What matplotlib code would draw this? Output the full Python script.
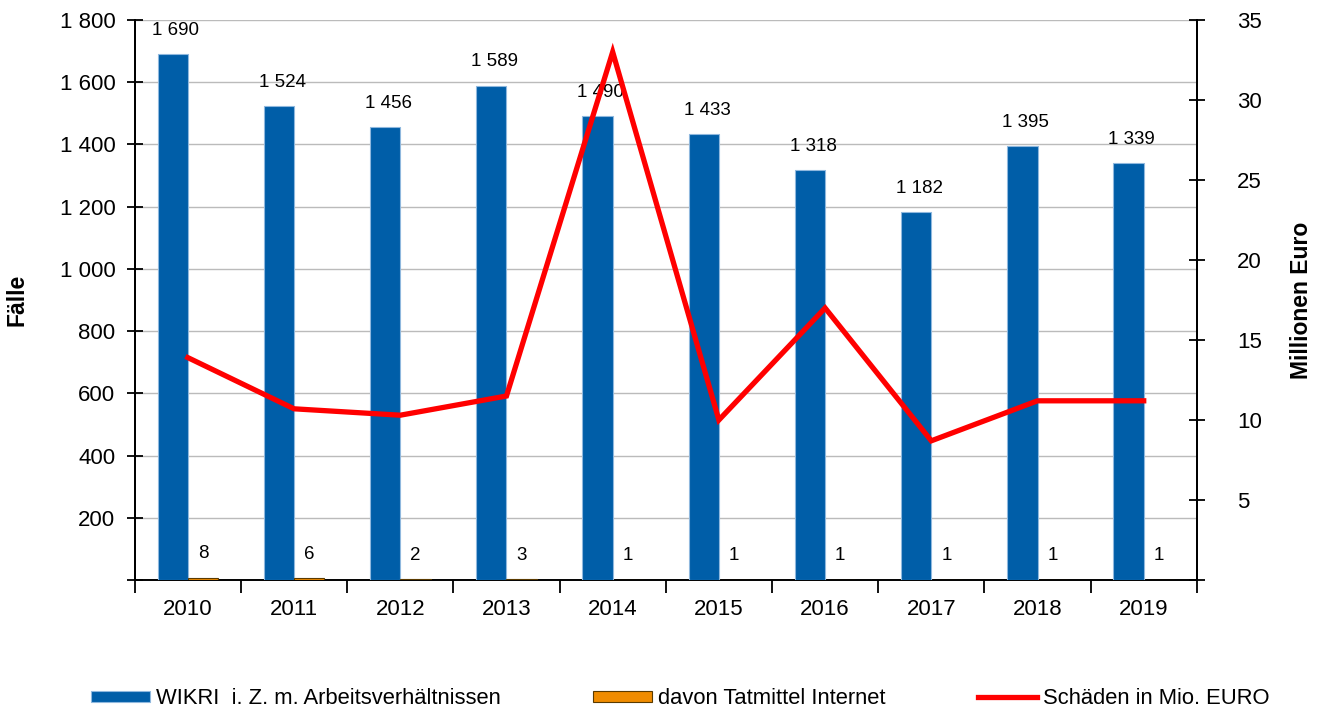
import numpy as np
import matplotlib
matplotlib.use("Agg")
import matplotlib.pyplot as plt
from matplotlib.ticker import FixedLocator, FuncFormatter

plt.rcParams['font.family'] = ['Liberation Sans', 'DejaVu Sans']

# ===== DATA =====
jahre = ["2010", "2011", "2012", "2013", "2014", "2015", "2016", "2017", "2018", "2019"]
faelle = [1690, 1524, 1456, 1589, 1490, 1433, 1318, 1182, 1395, 1339]
internet = [8, 6, 2, 3, 1, 1, 1, 1, 1, 1]
schaeden = [13.9, 10.7, 10.3, 11.5, 33.0, 10.0, 17.0, 8.7, 11.2, 11.2]

BLAU = "#005EA8"
ORANGE = "#F08C00"
ROT = "#FF0000"


def tausender(v, pos=None):
    return f"{int(v):,}".replace(",", " ")


fig = plt.figure(figsize=(13.21, 7.13), dpi=100)
ax = fig.add_axes([0.102, 0.1865, 0.804, 0.7855])
ax2 = ax.twinx()

x = np.arange(len(jahre))
w = 0.285

# ===== BALKEN =====
ax.bar(x - w / 2, faelle, w, color=BLAU, edgecolor="#8FB8DE", linewidth=0.8,
       label="WIKRI  i. Z. m. Arbeitsverhältnissen", zorder=3)
ax.bar(x + w / 2, internet, w, color=ORANGE, edgecolor="#5A3A00", linewidth=0.8,
       label="davon Tatmittel Internet", zorder=3)

for xi, v in zip(x, faelle):
    ax.annotate(tausender(v), (xi - w / 2 + 0.03, v), xytext=(0, 11),
                textcoords="offset points", ha="center", va="bottom", fontsize=13.5)
for xi, v in zip(x, internet):
    ax.annotate(str(v), (xi + w / 2, v), xytext=(0, 11),
                textcoords="offset points", ha="center", va="bottom", fontsize=13.5)

# ===== LINIE =====
ax2.plot(x, schaeden, color=ROT, linewidth=3.8, label="Schäden in Mio. EURO",
         solid_joinstyle="miter", zorder=4)

# ===== ACHSEN =====
ax.set_xlim(-0.5, len(jahre) - 0.5)
ax.set_ylim(0, 1800)
ax2.set_ylim(0, 35)

ax.yaxis.set_major_locator(FixedLocator(range(0, 1801, 200)))
ax.yaxis.set_major_formatter(FuncFormatter(lambda v, p: "" if v == 0 else tausender(v)))
ax2.yaxis.set_major_locator(FixedLocator(range(0, 36, 5)))
ax2.yaxis.set_major_formatter(FuncFormatter(lambda v, p: "" if v == 0 else f"{int(v)}"))

ax.set_xticks(x)
ax.set_xticklabels(jahre)
ax.set_xticks(np.arange(-0.5, len(jahre), 1), minor=True)
ax.tick_params(axis="x", which="major", length=0, labelsize=16, pad=14)
ax.tick_params(axis="x", which="minor", length=9, width=1.3, direction="out")
ax.tick_params(axis="y", length=12, width=1.3, direction="inout", labelsize=16, pad=8)
ax2.tick_params(axis="y", length=12, width=1.3, direction="inout", labelsize=16, pad=23)

ax.grid(axis="y", color="#BBBBBB", linewidth=1.0, zorder=0)
ax.set_axisbelow(True)

for a in (ax, ax2):
    a.spines["top"].set_visible(False)
    a.spines["left"].set_linewidth(1.4)
    a.spines["right"].set_linewidth(1.4)
    a.spines["bottom"].set_linewidth(1.4)
ax2.spines["bottom"].set_visible(False)

ax.set_ylabel("Fälle", fontsize=16.5, fontweight="bold", labelpad=22)
ax2.set_ylabel("Millionen Euro", fontsize=16.5, fontweight="bold", labelpad=20)

# ===== LEGENDE =====
h1, l1 = ax.get_legend_handles_labels()
h2, l2 = ax2.get_legend_handles_labels()
fig.legend(h1 + h2, l1 + l2, loc="center", bbox_to_anchor=(0.515, 0.02),
           ncol=3, frameon=False, fontsize=15.8, handlelength=2.7, handleheight=0.45,
           handletextpad=0.27, columnspacing=4.2)

plt.savefig("out.png", dpi=100)
plt.close()
